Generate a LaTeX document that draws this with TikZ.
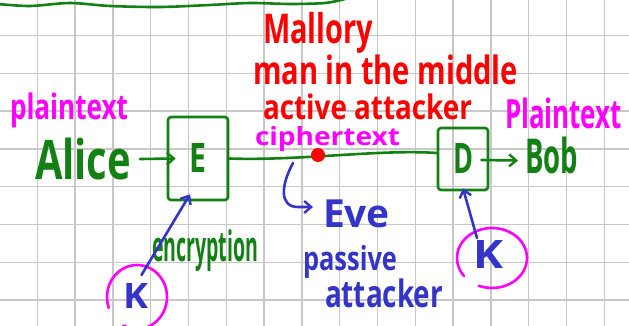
\documentclass[tikz,border=0pt]{standalone}
\usepackage{fontspec}
\setmainfont{Open Sans}
\usepackage{graphicx}
\usetikzlibrary{arrows.meta}

\definecolor{inkgreen}{RGB}{18,128,18}
\definecolor{inkred}{RGB}{255,0,0}
\definecolor{inkmagenta}{RGB}{255,0,255}
\definecolor{inkblue}{RGB}{52,52,200}
\definecolor{gridgray}{RGB}{200,200,200}

% text squeezed into a given width and total height (in pt)
\newcommand{\hand}[3]{\resizebox*{#1pt}{#2pt}{\bfseries #3}}

\tikzset{
  gridline/.style={draw=gridgray, line width=1.3pt},
  word/.style={inner sep=0pt, outer sep=0pt, anchor=north west},
  wire/.style={draw=inkgreen, line width=2.6pt, line cap=round, line join=round},
  bluepen/.style={draw=inkblue, line width=2.6pt, line cap=round, line join=round},
  ring/.style={draw=inkmagenta, line width=2.6pt, line cap=round},
  barb/.style={-{Straight Barb[length=7pt,width=12pt,line width=2.4pt]}},
  cipherbox/.style={wire, rectangle, rounded corners=3pt, inner sep=0pt},
}

\begin{document}
\begin{tikzpicture}[x=1pt,y=-1pt]
\useasboundingbox (0,0) rectangle (629,326);
\fill[white] (0,0) rectangle (629,326);

% squared paper
\foreach \i in {0,...,15} \draw[gridline] ({37.3+37.8*\i},0) -- ++(0,326);
\foreach \j in {0,...,7} \draw[gridline] (0,{35.5+37.8*\j}) -- ++(629,0);

% separator line at the top
\draw[wire] plot[smooth] coordinates {(-2,4) (30,6) (70,3) (110,6) (160,7) (210,5) (250,3) (290,4) (325,3) (345,-1)};

% labels
\node[word, text=inkred] (mallory) at (263,12) {\hand{110}{41}{Mallory}};
\node[word, text=inkred] (mitm) at (253,55) {\hand{265}{30}{man in the middle}};
\node[word, text=inkred] (active) at (263,94) {\hand{209}{26}{active attacker}};
\node[word, text=inkmagenta] (cipher) at (255,127) {\hand{145}{25}{ciphertext}};
\node[word, text=inkmagenta] (plainL) at (10,93) {\hand{118}{35}{plaintext}};
\node[word, text=inkmagenta] (plainR) at (505,98) {\hand{117}{31}{Plaintext}};
\node[word, text=inkgreen] (alice) at (35,138) {\hand{96}{42}{Alice}};
\node[word, text=inkgreen] (bob) at (525,137) {\hand{53}{37}{Bob}};
\node[word, text=inkgreen] (encr) at (152,230) {\hand{106}{42}{encryption}};
\node[word, text=inkblue] (eve) at (323,200) {\hand{67}{28}{Eve}};
\node[word, text=inkblue] (passive) at (303,245) {\hand{94}{33}{passive}};
\node[word, text=inkblue] (attacker) at (325,279) {\hand{118}{29}{attacker}};
\node[word, text=inkblue] (kL) at (123,283) {\hand{25}{25}{K}};
\node[word, text=inkblue] (kR) at (473,240) {\hand{30}{28}{K}};

% encryption and decryption boxes
\node[cipherbox, minimum width=60pt, minimum height=83pt, text=inkgreen] (E) at (198,158.5) {\hand{17}{29}{E}};
\node[cipherbox, minimum width=50pt, minimum height=62pt, text=inkgreen] (D) at (463,159) {\hand{20}{30}{D}};

% channel
\draw[wire, barb] ([xshift=9pt]alice.east) -- ([xshift=9pt]E.west);
\draw[wire] (E.east) .. controls (300,161) and (380,149) .. ([yshift=6pt]D.west);
\draw[wire, barb] ([xshift=-8pt,yshift=-1pt]D.east) -- ([xshift=-7pt,yshift=-5pt]bob.west);
\node[circle, fill=inkred, minimum size=14pt, inner sep=0pt] (mdot) at (318,155) {};

% eavesdropper tap
\coordinate (tap) at (293,163);
\draw[bluepen, barb] (tap) .. controls (281,185) and (279,207) .. (298,207) -- ([xshift=-10pt,yshift=7pt]eve.west);

% keys
\draw[ring] plot[smooth, domain=160:477, samples=50] ({137+30*cos(\x)},{297+32*sin(\x)});
\draw[ring] plot[smooth, domain=143:472, samples=50] ({492+35*cos(\x)},{258+30*sin(\x)});
\draw[bluepen, barb] ([xshift=6pt,yshift=8pt]kL.north) -- ([xshift=-8pt,yshift=7pt]E.south);
\draw[bluepen, barb] ([xshift=-11pt,yshift=2pt]kR.north) -- ([yshift=3pt]D.south);
\end{tikzpicture}
\end{document}
